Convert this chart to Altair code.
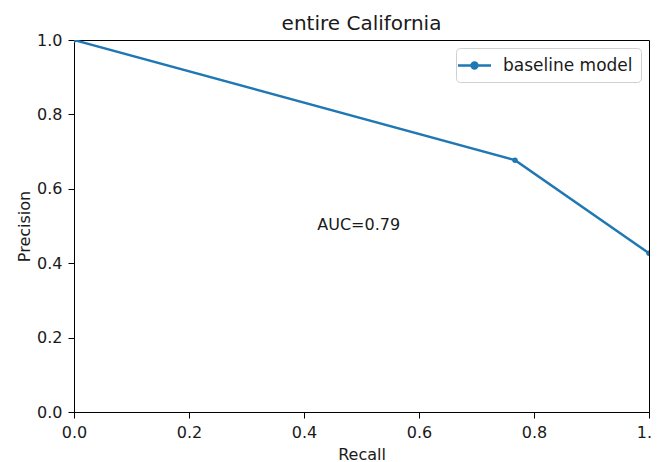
import altair as alt
import pandas as pd

recall = [0.0, 0.767, 1.0]
precision = [1.0, 0.677, 0.427]
series = ["baseline model"] * 3
auc_label = ["AUC=0.79"]
auc_x = [0.423]
auc_y = [0.49]

df = pd.DataFrame({"Recall": recall, "Precision": precision, "series": series})
tdf = pd.DataFrame({"x": auc_x, "y": auc_y, "t": auc_label})

FONT = "DejaVu Sans"
FS = 16
BLUE = "#1f77b4"
TXT = "#1a1a1a"

xs = alt.Scale(domain=[0, 1], nice=False, zero=False)
ys = alt.Scale(domain=[0, 1], nice=False, zero=False)

axis_common = dict(
    values=[0, 0.2, 0.4, 0.6, 0.8, 1.0], format=".1f", grid=False, labelFlush=False,
    domainColor="black", domainWidth=1, tickColor="black", tickSize=6, tickWidth=1,
    labelColor=TXT, labelFont=FONT, labelFontSize=FS, labelPadding=6,
    titleColor=TXT, titleFont=FONT, titleFontSize=FS, titleFontWeight="normal",
)

legend_symbol = "M-2,0H2M-0.36,0A0.36,0.36,0,1,0,0.36,0A0.36,0.36,0,1,0,-0.36,0Z"

color = alt.Color(
    "series:N",
    scale=alt.Scale(domain=["baseline model"], range=[BLUE]),
    legend=alt.Legend(
        title=None, orient="top-right", offset=8,
        symbolType=legend_symbol, symbolSize=272, symbolStrokeWidth=2.4,
        symbolFillColor=BLUE, symbolStrokeColor=BLUE,
        labelFont=FONT, labelFontSize=17, labelColor=TXT,
        strokeColor="#d0d0d0", cornerRadius=4, fillColor="white",
        padding=8, symbolOffset=1, labelOffset=19,
    ),
)

line = alt.Chart(df).mark_line(strokeWidth=2.4, clip=True, color=BLUE).encode(
    x=alt.X("Recall:Q", scale=xs, axis=alt.Axis(title="Recall", titlePadding=6, **axis_common)),
    y=alt.Y("Precision:Q", scale=ys, axis=alt.Axis(title="Precision", titlePadding=4, **axis_common)),
    color=color,
)
pts = alt.Chart(df).mark_circle(size=30, opacity=1, clip=True, color=BLUE).encode(
    x=alt.X("Recall:Q", scale=xs),
    y=alt.Y("Precision:Q", scale=ys),
)
txt = alt.Chart(tdf).mark_text(align="left", baseline="alphabetic", font=FONT, fontSize=FS, color=TXT).encode(
    x=alt.X("x:Q", scale=xs),
    y=alt.Y("y:Q", scale=ys),
    text="t:N",
)

chart = (line + pts + txt).properties(
    width=575, height=372,
    title=alt.TitleParams("entire California", font=FONT, fontSize=20, fontWeight="normal",
                          color=TXT, offset=0, dy=2),
    autosize=alt.AutoSizeParams(type="none"),
    padding={"left": 66, "top": 32, "right": 3, "bottom": 50},
).configure(background="white", view=alt.ViewConfig(stroke="black", strokeWidth=1))

chart.save("out.html", embed_options={"renderer": "svg", "actions": False})
